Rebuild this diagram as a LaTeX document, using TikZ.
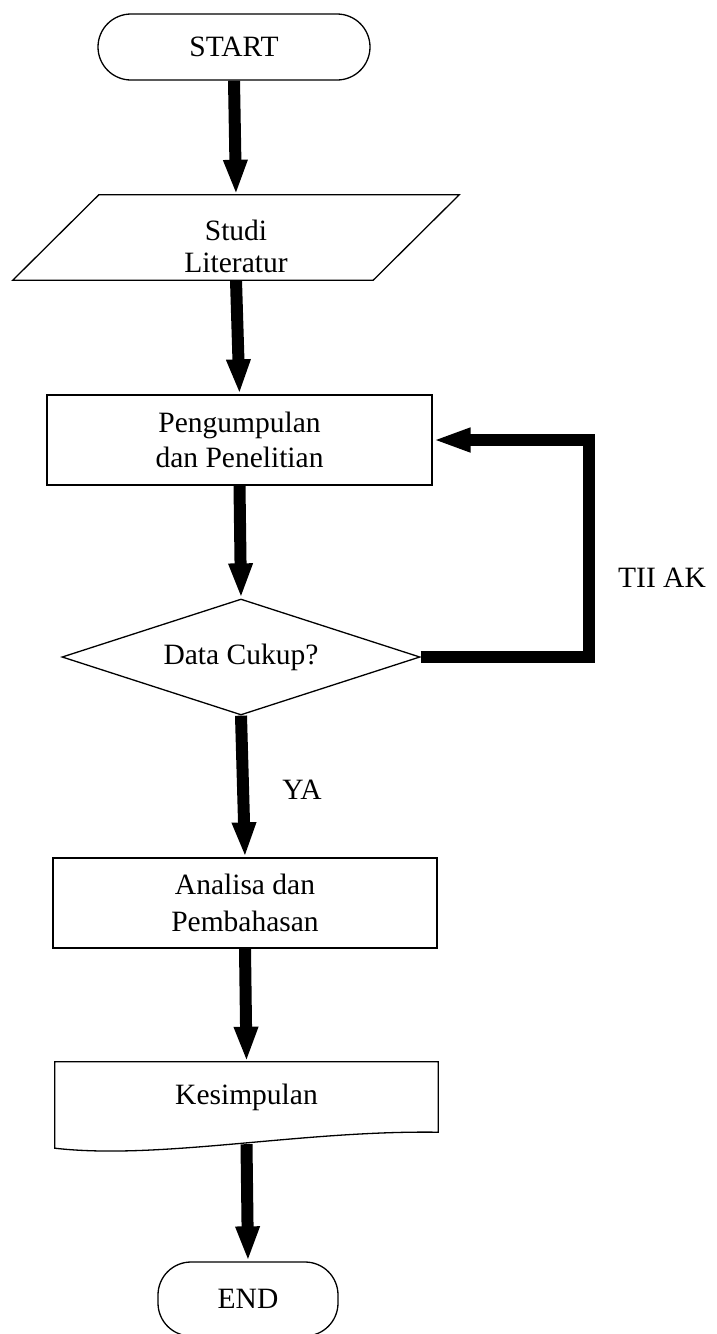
\documentclass[tikz,border=0pt]{standalone}
\usepackage{fontspec}
\setmainfont{Liberation Serif}
\usetikzlibrary{shapes.geometric,arrows.meta,calc}
\begin{document}
\begin{tikzpicture}[x=1pt,y=-1pt,
  every node/.style={font=\fontsize{29.5}{35}\selectfont, inner sep=0pt},
  shapeline/.style={line width=1.3pt},
  terminal/.style={shapeline, draw, rectangle, rounded corners=33pt},
  procbox/.style={shapeline, draw, rectangle, align=center},
  flow/.style={line width=12pt, -{Triangle[width=22pt,length=35pt]}}
]
\useasboundingbox (0,0) rectangle (716,1334);
\clip (0,0) rectangle (716,1334);

\node[terminal, minimum width=272pt, minimum height=66pt] (start) at (234,47) {START};

\node[minimum width=360pt, minimum height=85pt] (studi) at (236,237.5) {};
\draw[shapeline] ($(studi.north west)+(43,0)$) -- ($(studi.north east)+(43,0)$) -- ($(studi.south east)+(-43,0)$) -- ($(studi.south west)+(-43,0)$) -- cycle;
\node[align=center, font=\fontsize{29.5}{32}\selectfont] (studitext) at ($(studi.center)+(0,9)$) {Studi\\Literatur};

\node[procbox, minimum width=385pt, minimum height=90pt] (peng) at (239.5,440) {Pengumpulan\\dan Penelitian};

\node[diamond, shapeline, draw, aspect=3.09, minimum width=358pt, minimum height=116pt] (dec) at (241,657) {Data Cukup?};

\node[procbox, minimum width=384pt, minimum height=90pt, font=\fontsize{29.5}{37}\selectfont] (ana) at (245,903) {Analisa dan\\Pembahasan};

\node[minimum width=383pt, minimum height=70pt] (kes) at (246.5,1097) {Kesimpulan};
\draw[shapeline] (kes.south east) -- (kes.north east) -- (kes.north west) -- ($(kes.south west)+(0,16)$)
  .. controls ($(kes.south west)+(105,28)$) and ($(kes.south east)+(-138,-2)$) .. (kes.south east) -- cycle;
\coordinate (kesb) at ($(kes.south)+(0,12)$);

\node[terminal, minimum width=180pt, minimum height=74pt] (end) at (248,1299) {END};

\draw[flow] (start.south) -- (studi.north);
\draw[flow] (studi.south) -- (peng.north);
\draw[flow] (peng.south) -- (dec.north);
\draw[flow] (dec.south) -- (ana.north);
\draw[flow] (ana.south) -- (kes.north);
\draw[flow] (kesb) -- (end.north);
\draw[line width=12pt, -{Triangle[width=22pt,length=38pt]}] (dec.east) -- ++(168,0) |- (peng.east);

\node (ya) at (302,790) {YA};
\node (tidak) at (662,578) {TII AK};
\end{tikzpicture}
\end{document}
